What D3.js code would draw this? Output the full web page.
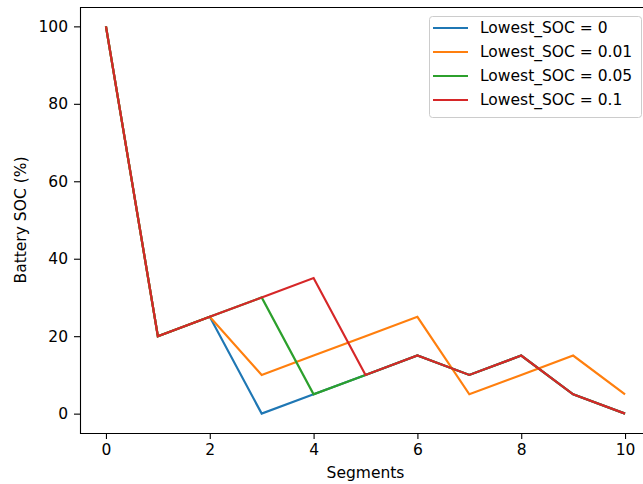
<!DOCTYPE html>
<html>
<head>
<meta charset="utf-8">
<script src="https://cdn.jsdelivr.net/npm/d3@7"></script>
<style>
  body { margin: 0; background: #fff; }
  svg { display: block; font-family: "DejaVu Sans", sans-serif; }
</style>
</head>
<body>
<svg id="chart" width="643" height="484"></svg>
<script>
// data
const segments = [0, 1, 2, 3, 4, 5, 6, 7, 8, 9, 10];
const soc_0    = [100, 20, 25, 0, 5, 10, 15, 10, 15, 5, 0];
const soc_001  = [100, 20, 25, 10, 15, 20, 25, 5, 10, 15, 5];
const soc_005  = [100, 20, 25, 30, 5, 10, 15, 10, 15, 5, 0];
const soc_01   = [100, 20, 25, 30, 35, 10, 15, 10, 15, 5, 0];
const seriesNames = ["Lowest_SOC = 0", "Lowest_SOC = 0.01", "Lowest_SOC = 0.05", "Lowest_SOC = 0.1"];
const xTicks = [0, 2, 4, 6, 8, 10];
const yTicks = [0, 20, 40, 60, 80, 100];

const colors = ["#1f77b4", "#ff7f0e", "#2ca02c", "#d62728"];
const series = [soc_0, soc_001, soc_005, soc_01].map((vals, i) => ({
    name: seriesNames[i],
    color: colors[i],
    values: vals.map((v, j) => ({x: segments[j], y: v}))
}));

const svg = d3.select('#chart');
const fontSize = 15.5;

// axes box (right side runs off the canvas, as in the picture)
const mLeft = 80, mRight = 651, mTop = 7, mBottom = 433;

const x = d3.scaleLinear().domain([-0.5, 10.5]).range([mLeft, mRight]);
const y = d3.scaleLinear().domain([-5, 105]).range([mBottom, mTop]);

const line = d3.line().x(d => x(d.x)).y(d => y(d.y));

const g = svg.append('g');

g.selectAll('.series')
    .data(series)
    .join('path')
    .classed('series', true)
    .attr('d', d => line(d.values))
    .attr('fill', 'none')
    .attr('stroke', d => d.color)
    .attr('stroke-width', 2.2)
    .attr('stroke-linejoin', 'miter')
    .attr('stroke-linecap', 'butt');

const xAxis = svg.append('g')
    .attr('transform', `translate(0, ${mBottom})`)
    .call(d3.axisBottom(x).tickValues(xTicks).tickSize(6).tickPadding(5).tickSizeOuter(0));
const yAxis = svg.append('g')
    .attr('transform', `translate(${mLeft}, 0)`)
    .call(d3.axisLeft(y).tickValues(yTicks).tickSize(6).tickPadding(6).tickSizeOuter(0));

[xAxis, yAxis].forEach(a => {
    a.select('.domain').remove();
    a.selectAll('text').attr('font-size', fontSize).attr('fill', '#000').attr('font-family', '"DejaVu Sans", sans-serif');
    a.selectAll('line').attr('stroke', '#000').attr('stroke-width', 1.1);
});

// spines
svg.append('line').attr('x1', mLeft + 0.5).attr('x2', mLeft + 0.5).attr('y1', mTop).attr('y2', mBottom + 1).attr('stroke', '#000').attr('stroke-width', 1.1);
svg.append('line').attr('x1', mLeft).attr('x2', mRight).attr('y1', mBottom + 0.5).attr('y2', mBottom + 0.5).attr('stroke', '#000').attr('stroke-width', 1.1);
svg.append('line').attr('x1', mLeft).attr('x2', mRight).attr('y1', mTop + 0.5).attr('y2', mTop + 0.5).attr('stroke', '#000').attr('stroke-width', 1.1);

// axis labels
svg.append('text')
    .attr('x', (mLeft + mRight) / 2)
    .attr('y', 478)
    .attr('text-anchor', 'middle')
    .attr('font-size', fontSize)
    .text('Segments');
svg.append('text')
    .attr('transform', `translate(26, ${(mTop + mBottom) / 2}) rotate(-90)`)
    .attr('text-anchor', 'middle')
    .attr('font-size', fontSize)
    .text('Battery SOC (%)');

// legend
const legend = svg.append('g').attr('transform', 'translate(429, 16)');
legend.append('rect')
    .attr('x', 0.5).attr('y', 0.5)
    .attr('width', 212).attr('height', 101)
    .attr('rx', 3)
    .attr('fill', '#fff').attr('fill-opacity', 0.8)
    .attr('stroke', '#ccc');
const item = legend.selectAll('.item')
    .data(series)
    .join('g')
    .classed('item', true)
    .attr('transform', (d, i) => `translate(0, ${12 + i * 24})`);
item.append('line')
    .attr('x1', 4).attr('x2', 39)
    .attr('stroke', d => d.color)
    .attr('stroke-width', 2.2);
item.append('text')
    .attr('x', 51)
    .attr('dy', '0.35em')
    .attr('font-size', fontSize)
    .text(d => d.name);
</script>
</body>
</html>
